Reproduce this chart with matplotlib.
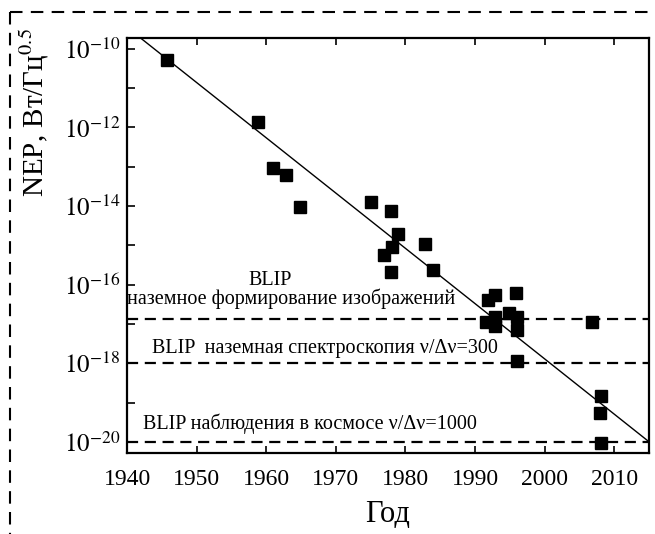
import numpy as np
import matplotlib
matplotlib.use('Agg')
import matplotlib.pyplot as plt
from matplotlib.lines import Line2D

plt.rcParams['font.family'] = ['Liberation Serif', 'DejaVu Serif']
plt.rcParams['mathtext.fontset'] = 'stix'

# data (year, NEP in W/Hz^0.5)
years = [1945.7, 1958.8, 1961.0, 1962.8, 1964.9,
         1975.0, 1977.9, 1978.9, 1978.1, 1976.9, 1977.9, 1982.8, 1984.0,
         1991.9, 1992.9, 1995.9, 1991.6, 1992.9, 1992.9, 1994.9, 1996.0,
         1996.0, 1996.0, 2006.8, 2008.1, 2008.0, 2008.1]
log_nep = [-10.28, -11.86, -13.03, -13.21, -14.03,
           -13.90, -14.13, -14.71, -15.04, -15.25, -15.68, -14.97, -15.63,
           -16.39, -16.27, -16.22, -16.96, -16.83, -17.06, -16.73, -16.83,
           -17.16, -17.95, -16.96, -18.84, -19.27, -20.03]
nep = [10.0 ** v for v in log_nep]

# trend line end points
trend_years = [1940, 2015]
trend_nep = [10 ** -9.45, 1e-20]

# BLIP levels
blip_levels = [1.3e-17, 1e-18, 1e-20]

fig = plt.figure(figsize=(6.55, 5.34), dpi=100)
ax = fig.add_axes([0.194, 0.152, 0.797, 0.777])

ax.plot(trend_years, trend_nep, color='black', lw=1.0, zorder=2)
for lev in blip_levels:
    ax.axhline(lev, color='black', lw=1.6, dashes=(5, 3), zorder=2)
ax.plot(years, nep, 's', color='black', markersize=9, zorder=3)

ax.set_yscale('log')
ax.set_xlim(1940, 2015)
ax.set_ylim(10 ** -20.28, 10 ** -9.72)

ax.set_xticks([1940, 1950, 1960, 1970, 1980, 1990, 2000, 2010])
ax.set_xticklabels(['1940', '1950', '1960', '1970', '1980', '1990', '2000', '2010'], fontsize=17)
maj = [10.0 ** e for e in range(-20, -9, 2)]
ax.set_yticks(maj)
ax.set_yticklabels([r'$10^{%d}$' % e for e in range(-20, -9, 2)], fontsize=18)
ax.set_yticks([10.0 ** e for e in range(-19, -9, 2)], minor=True)
ax.yaxis.set_minor_formatter(matplotlib.ticker.NullFormatter())
ax.tick_params(axis='x', direction='in', top=True, length=5, width=1.2, pad=12)
ax.tick_params(axis='y', which='both', direction='in', length=6, width=1.2, pad=5)
ax.tick_params(axis='x', which='minor', bottom=False, top=False)
for s in ax.spines.values():
    s.set_linewidth(1.6)

ax.set_xlabel('Год', fontsize=22, labelpad=7)
ax.set_ylabel(r'NEP, Вт/Гц$^{0.5}$', fontsize=21)
ax.yaxis.set_label_coords(-0.145, 0.82)

ax.text(1960.5, 10 ** -15.89, 'BLIP', fontsize=14.5, ha='center', va='center')
ax.text(1963.6, 10 ** -16.37, 'наземное формирование изображений', fontsize=14.5, ha='center', va='center')
ax.text(1968.4, 10 ** -17.62, 'BLIP  наземная спектроскопия ν/Δν=300', fontsize=14.5, ha='center', va='center')
ax.text(1966.3, 10 ** -19.53, 'BLIP наблюдения в космосе ν/Δν=1000', fontsize=14.5, ha='center', va='center')

# dashed frame (top and left only)
fig.add_artist(Line2D([0.0153, 1.0], [0.9775, 0.9775], transform=fig.transFigure,
                      color='black', lw=1.5, dashes=(6, 4)))
fig.add_artist(Line2D([0.0153, 0.0153], [0.9775, 0.0], transform=fig.transFigure,
                      color='black', lw=1.5, dashes=(6, 4)))

fig.savefig('out.png', dpi=100)
